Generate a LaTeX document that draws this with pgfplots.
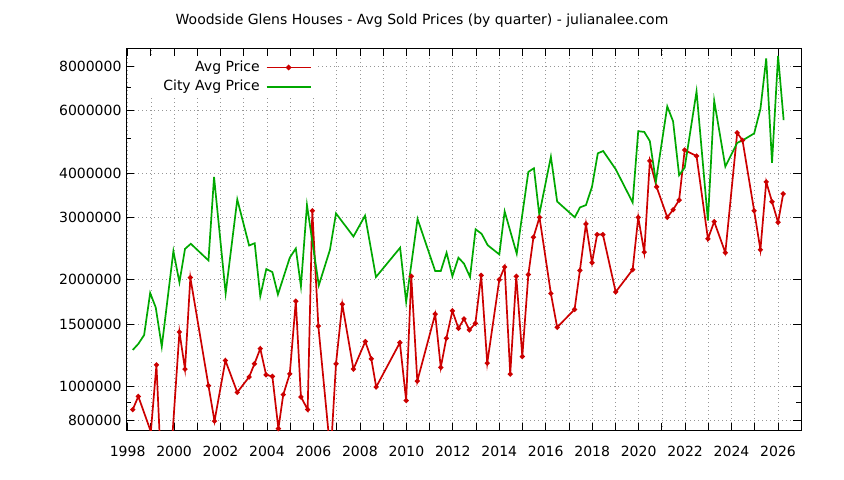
\documentclass[border=0pt]{standalone}
\usepackage{fontspec}
\setmainfont{DejaVu Sans}
\usepackage{pgfplots}
\pgfplotsset{compat=1.18}
\definecolor{avgred}{RGB}{204,0,0}
\definecolor{citygreen}{RGB}{0,168,0}
\definecolor{gridgray}{RGB}{150,150,150}
\newcommand{\lbl}{\fontsize{14bp}{16bp}\selectfont}
\begin{document}
\begin{tikzpicture}
\path[use as bounding box] (0,0) rectangle (844bp,480bp);
\node[font=\lbl] at (422bp,459.5bp) {Woodside Glens Houses - Avg Sold Prices (by quarter) - julianalee.com};
\begin{axis}[
  at={(126bp,49.3bp)}, anchor=south west,
  scale only axis, width=675.3bp, height=382.4bp,
  xmin=1997.93, xmax=2027,
  ymode=log, ymin=750000, ymax=9000000,
  xtick={1998,1999,...,2026},
  xticklabels={1998,{},2000,{},2002,{},2004,{},2006,{},2008,{},2010,{},2012,{},2014,{},2016,{},2018,{},2020,{},2022,{},2024,{},2026},
  ytick={800000,1000000,1500000,2000000,3000000,4000000,6000000,8000000},
  yticklabels={800000,1000000,1500000,2000000,3000000,4000000,6000000,8000000},
  minor ytick={900000,5000000,7000000},
  major tick length=8bp, minor tick length=5bp,
  tick style={black, line width=0.8bp},
  grid=major,
  major grid style={gridgray, line width=0.7bp, dash pattern=on 0.8bp off 3.2bp},
  axis line style={line width=1bp},
  ticklabel style={font=\lbl},
  xticklabel style={yshift=-12bp},
  yticklabel style={xshift=-1bp},
  legend cell align=right,
  legend plot pos=right,
  legend style={at={(0.281,0.971)}, anchor=north east, draw=none, fill=none,
    font=\lbl, inner xsep=4bp, inner ysep=0bp, row sep=3.5bp, column sep=5bp,
    nodes={inner sep=1bp, text height=10.5bp, text depth=3.3bp}},
]
% white key background, kept clear of the border tick marks
\addplot[forget plot, draw=none, fill=white] coordinates {
(1998.296,8510000) (2006.11,8510000) (2006.11,6645000) (1998.296,6645000) (1998.296,8510000)};
\addplot[avgred, line width=1.7bp, mark=*, mark size=1.6bp, mark options={solid},
  legend image code/.code={\draw[avgred,line width=1.8bp] (0bp,0bp) -- (44bp,0bp);
    \fill[avgred] (22bp,0bp) circle (1.8bp);}] coordinates {
(1998.22,860000) (1998.46,937000) (1999.00,745000) (1999.24,1150000) (1999.60,350000)
(2000.23,1424000) (2000.47,1119000) (2000.70,2028000) (2001.48,1005000) (2001.74,798000)
(2002.21,1183000) (2002.72,962000) (2003.23,1063000) (2003.46,1158000) (2003.71,1278000)
(2003.96,1078000) (2004.23,1067000) (2004.49,760000) (2004.70,948000) (2004.98,1085000)
(2005.24,1740000) (2005.46,934000) (2005.75,860000) (2005.95,3131000) (2006.21,1480000)
(2006.74,640000) (2006.97,1158000) (2007.24,1706000) (2007.72,1119000) (2008.23,1338000)
(2008.49,1196000) (2008.70,996000) (2009.72,1329000) (2009.99,912000) (2010.21,2045000)
(2010.47,1035000) (2011.24,1600000) (2011.48,1131000) (2011.72,1367000) (2011.98,1634000)
(2012.24,1458000) (2012.48,1551000) (2012.71,1443000) (2012.97,1506000) (2013.22,2058000)
(2013.48,1163000) (2014.00,2001000) (2014.23,2172000) (2014.47,1083000) (2014.73,2045000)
(2014.99,1214000) (2015.25,2068000) (2015.47,2636000) (2015.73,3000000) (2016.22,1829000)
(2016.49,1468000) (2017.24,1649000) (2017.47,2125000) (2017.73,2874000) (2017.99,2234000)
(2018.21,2682000) (2018.46,2682000) (2019.01,1847000) (2019.74,2135000) (2019.98,3000000)
(2020.24,2392000) (2020.48,4328000) (2020.77,3657000) (2021.23,3000000) (2021.48,3152000)
(2021.74,3356000) (2021.98,4645000) (2022.49,4468000) (2022.98,2608000) (2023.25,2917000)
(2023.73,2384000) (2024.24,5195000) (2024.47,4946000) (2024.97,3131000) (2025.24,2430000)
(2025.49,3777000) (2025.74,3320000) (2026.00,2904000) (2026.22,3496000)
};
\addlegendentry{Avg Price}
\addplot[citygreen, line width=1.7bp, mark=none,
  legend image code/.code={\draw[citygreen,line width=1.8bp] (0bp,0bp) -- (44bp,0bp);}] coordinates {
(1998.22,1267000) (1998.46,1318000) (1998.71,1396000) (1998.97,1835000) (1999.21,1670000)
(1999.47,1295000) (1999.97,2408000) (2000.23,1967000) (2000.47,2443000) (2000.72,2526000)
(2001.48,2267000) (2001.72,3900000) (2002.22,1829000) (2002.72,3370000) (2003.23,2498000)
(2003.47,2535000) (2003.71,1797000) (2003.97,2144000) (2004.23,2102000) (2004.47,1817000)
(2004.98,2308000) (2005.24,2450000) (2005.46,1917000) (2005.72,3249000) (2006.23,1929000)
(2006.71,2430000) (2006.97,3078000) (2007.72,2648000) (2008.22,3033000) (2008.69,2035000)
(2009.73,2462000) (2009.99,1732000) (2010.48,2969000) (2011.24,2116000) (2011.48,2116000)
(2011.73,2384000) (2011.98,2045000) (2012.24,2308000) (2012.48,2220000) (2012.74,2035000)
(2012.98,2776000) (2013.24,2694000) (2013.50,2503000) (2014.00,2357000) (2014.23,3117000)
(2014.75,2368000) (2015.25,4030000) (2015.49,4127000) (2015.72,3052000) (2016.22,4448000)
(2016.49,3325000) (2017.25,3000000) (2017.47,3199000) (2017.73,3249000) (2017.99,3657000)
(2018.24,4548000) (2018.47,4616000) (2019.01,4101000) (2019.74,3304000) (2019.98,5250000)
(2020.24,5226000) (2020.48,4923000) (2020.74,3784000) (2021.23,6170000) (2021.48,5600000)
(2021.74,3945000) (2021.98,4142000) (2022.49,6800000) (2022.98,2936000) (2023.25,6400000)
(2023.73,4170000) (2024.24,4867000) (2024.47,4946000) (2024.97,5174000) (2025.24,6065000)
(2025.49,8430000) (2025.74,4278000) (2026.00,8562000) (2026.24,5640000)
};
\addlegendentry{City Avg Price}
\end{axis}
\end{tikzpicture}
\end{document}
